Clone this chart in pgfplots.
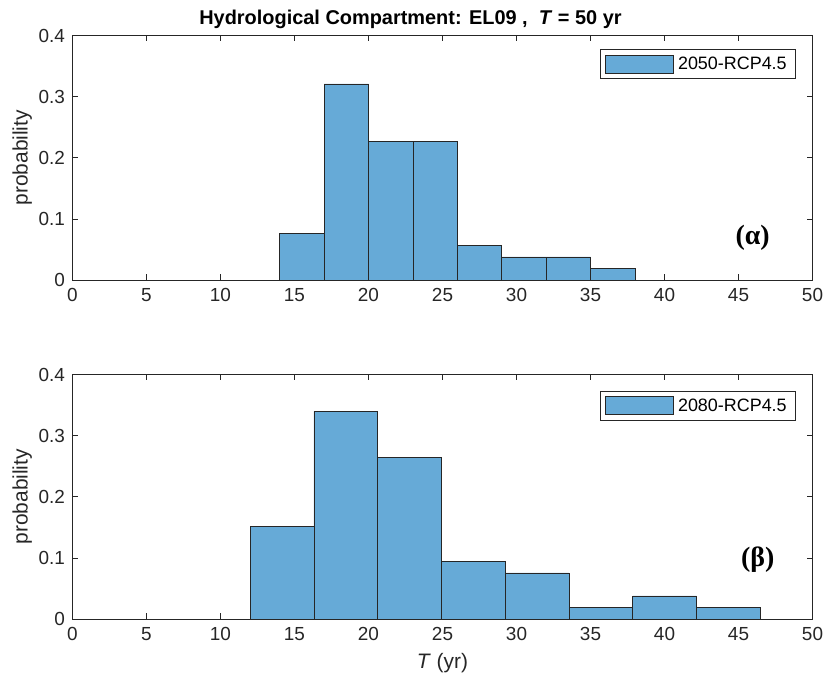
\documentclass[border=0pt]{standalone}
\usepackage{pgfplots}
\pgfplotsset{compat=1.18}
\usepackage{fontspec}
\setmainfont{Liberation Sans}
\newfontfamily\labserif{Liberation Serif}
\definecolor{barblue}{RGB}{102,170,215}
\definecolor{axgray}{RGB}{38,38,38}
\pgfplotsset{
  histax/.style={
    scale only axis, width=740bp, height=244.5bp,
    xmin=0, xmax=50, ymin=0, ymax=0.4,
    xtick={0,5,10,15,20,25,30,35,40,45,50},
    ytick={0,0.1,0.2,0.3,0.4},
    yticklabels={0,0.1,0.2,0.3,0.4},
    tick align=inside, major tick length=6bp,
    xtick pos=both, ytick pos=both,
    axis line style={axgray, line width=0.6bp},
    tick style={axgray, line width=0.6bp},
    /pgf/number format/assume math mode=true,
    ticklabel style={font=\fontsize{19}{22}\selectfont, text=axgray},
    xticklabel style={yshift=-5bp},
    yticklabel style={xshift=-4bp},
    label style={font=\fontsize{21}{24}\selectfont, text=axgray},
    ylabel={probability},
    ylabel style={at={(rel axis cs:0,0.5)}, anchor=south, yshift=37bp},
    legend cell align=left,
    legend style={font=\fontsize{18}{21}\selectfont, draw=axgray, line width=0.6bp,
      anchor=north east, inner xsep=5bp, inner ysep=5bp,
      nodes={inner xsep=4bp}},
  },
  barstyle/.style={ybar interval, fill=barblue, draw=black!85, line width=0.7bp,
    legend image code/.code={\draw[fill=barblue, draw=black!85, line width=0.7bp] (0bp,-9bp) rectangle (68bp,9bp);}},
}
\begin{document}
\begin{tikzpicture}
\path[use as bounding box] (-72.5bp,-65bp) rectangle (754.5bp,619bp);
\begin{axis}[histax, at={(0bp,339bp)}, anchor=south west,
  title={\bfseries Hydrological Compartment: EL09 ,\ \ \textit{T} = 50 yr},
  title style={font=\fontsize{20}{23}\selectfont, text=black, yshift=-3bp, xshift=-32bp},
  legend style={at={(rel axis cs:0.9777,0.943)}},
  ]
\addplot[barstyle] coordinates {
 (14,0.0755) (17,0.3208) (20,0.2264) (23,0.2264) (26,0.0566) (29,0.0377) (32,0.0377) (35,0.0189) (38,0.0189)
};
\addlegendentry{2050-RCP4.5}
\node[font=\labserif\bfseries\fontsize{28}{30}\selectfont] at (axis cs:45.96,0.069) {(α)};
\end{axis}
\begin{axis}[histax, at={(0bp,0bp)}, anchor=south west,
  xlabel={\textit{T} (yr)},
  xlabel style={at={(rel axis cs:0.5,0)}, anchor=north, yshift=-31bp},
  legend style={at={(rel axis cs:0.9777,0.932)}},
  ]
\addplot[barstyle] coordinates {
 (12,0.1509) (16.31,0.3396) (20.62,0.2642) (24.93,0.0943) (29.24,0.0755) (33.55,0.0189) (37.86,0.0377) (42.17,0.0189) (46.48,0.0189)
};
\addlegendentry{2080-RCP4.5}
\node[font=\labserif\bfseries\fontsize{28}{30}\selectfont] at (axis cs:46.3,0.0967) {(β)};
\end{axis}
\end{tikzpicture}
\end{document}
